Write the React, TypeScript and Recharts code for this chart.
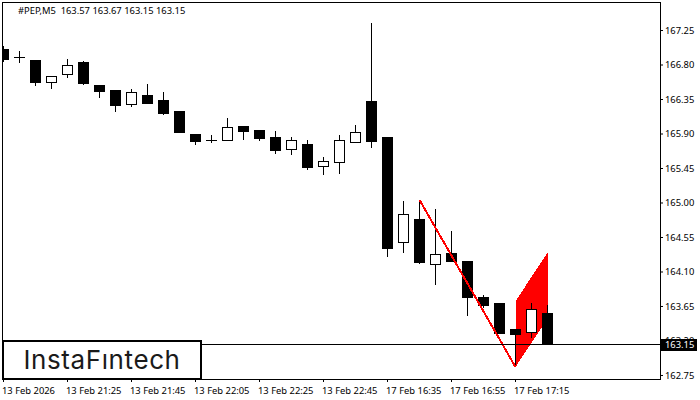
import { ComposedChart, Bar, Line, Area, XAxis, YAxis, ReferenceLine, ReferenceArea } from 'recharts';

const FONT = '"Noto Sans", sans-serif';
const FONT_SIZE = 9.4;

const opens = [167.01, 166.9, 166.87, 166.57, 166.67, 166.84, 166.54, 166.47, 166.28, 166.41, 166.34, 166.2, 165.9, 165.82, 165.81, 166.0, 165.95, 165.86, 165.69, 165.77, 165.47, 165.52, 165.78, 166.33, 165.86, 164.48, 164.79, 164.19, 164.35, 164.24, 163.77, 163.7, 163.36, 163.3, 163.57];
const closes = [166.87, 166.9, 166.57, 166.66, 166.8, 166.55, 166.45, 166.27, 166.45, 166.29, 166.16, 165.91, 165.8, 165.82, 165.99, 165.93, 165.84, 165.68, 165.82, 165.46, 165.55, 165.82, 165.93, 165.8, 164.4, 164.86, 164.22, 164.33, 164.23, 163.76, 163.66, 163.29, 163.28, 163.62, 163.15];
const highs = [167.05, 166.98, 166.87, 166.66, 166.88, 166.85, 166.54, 166.47, 166.49, 166.55, 166.45, 166.2, 165.9, 165.89, 166.11, 166.0, 165.95, 165.94, 165.86, 165.82, 165.6, 165.89, 166.02, 167.35, 165.86, 165.03, 165.04, 164.92, 164.63, 164.24, 163.8, 163.7, 163.36, 163.7, 163.67];
const lows = [166.84, 166.83, 166.53, 166.49, 166.63, 166.54, 166.37, 166.19, 166.25, 166.29, 166.15, 165.91, 165.76, 165.78, 165.81, 165.82, 165.81, 165.64, 165.63, 165.43, 165.37, 165.38, 165.78, 165.72, 164.3, 164.35, 164.2, 163.93, 164.23, 163.53, 163.63, 163.29, 162.86, 163.24, 163.15];

const timeTicks = [0, 4, 8, 12, 16, 20, 24, 28, 32];
const timeLabels = ['13 Feb 2026', '13 Feb 21:25', '13 Feb 21:45', '13 Feb 22:05', '13 Feb 22:25', '13 Feb 22:45', '17 Feb 16:35', '17 Feb 16:55', '17 Feb 17:15'];
const priceTicks = [167.25, 166.8, 166.35, 165.9, 165.45, 165.0, 164.55, 164.1, 163.65, 163.2, 162.75];
const lastPrice = 163.15;

const poleIndex = [26, 32];
const polePrice = [165.04, 162.86];
const flagIndex = [32, 34];
const flagLow = [162.86, 163.49];
const flagHigh = [163.72, 164.35];

const candles = opens.map((open, i) => ({ i, open, close: closes[i], high: highs[i], low: lows[i] }));
const pole = poleIndex.map((i, k) => ({ i, price: polePrice[k] }));
const flag = flagIndex.map((i, k) => ({ i, range: [flagLow[k], flagHigh[k]] }));

function Candle(props: any) {
  const { x, y, width, height, payload } = props;
  const perUnit = height / (payload.high - payload.low);
  const py = (p: number) => Math.round(y + (payload.high - p) * perUnit);
  const cx = Math.floor(x + width / 2) + 0.5;
  const left = cx - 5.5;
  const top = py(Math.max(payload.open, payload.close));
  const bottom = py(Math.min(payload.open, payload.close));
  const wick = <line x1={cx} x2={cx} y1={py(payload.high)} y2={py(payload.low)} stroke="#000" strokeWidth={1} />;

  if (payload.open === payload.close) {
    return (
      <g shapeRendering="crispEdges">
        {wick}
        <line x1={left} x2={left + 11} y1={top + 0.5} y2={top + 0.5} stroke="#000" />
      </g>
    );
  }
  if (payload.close > payload.open) {
    return (
      <g shapeRendering="crispEdges">
        {wick}
        <rect x={left + 0.5} y={top + 0.5} width={10} height={bottom - top - 1} fill="#fff" stroke="#000" strokeWidth={1} />
      </g>
    );
  }
  return (
    <g shapeRendering="crispEdges">
      {wick}
      <rect x={left} y={top} width={11} height={bottom - top} fill="#000" />
    </g>
  );
}

function TimeTick(props: any) {
  const { x, y, payload } = props;
  return (
    <text x={x - 1.5} y={y + 10} fontSize={FONT_SIZE} fontFamily={FONT} fill="#000" textAnchor="start">
      {timeLabels[timeTicks.indexOf(payload.value)]}
    </text>
  );
}

export default function App() {
  return (
    <div style={{ position: 'fixed', left: 0, top: 0, width: 700, height: 400, background: '#fff' }}>
      <ComposedChart width={700} height={400} data={candles} margin={{ top: 2, right: 0, bottom: 0, left: 2 }}>
        <XAxis
          dataKey="i"
          type="number"
          domain={[-0.094, 41.031]}
          allowDataOverflow
          ticks={timeTicks}
          interval={0}
          height={21}
          tick={<TimeTick />}
          tickSize={3}
          tickLine={{ stroke: '#000' }}
          axisLine={false}
        />
        <YAxis
          orientation="right"
          type="number"
          domain={[162.704, 167.622]}
          ticks={priceTicks}
          interval={0}
          width={40}
          tickSize={3}
          tickMargin={2}
          tickFormatter={(v: number) => v.toFixed(2)}
          tick={{ fontSize: FONT_SIZE, fontFamily: FONT, fill: '#000', textAnchor: 'start' }}
          tickLine={{ stroke: '#000' }}
          axisLine={false}
        />
        <Area data={flag} dataKey="range" type="linear" stroke="none" fill="#ff0000" fillOpacity={1} shapeRendering="crispEdges" isAnimationActive={false} />
        <Bar dataKey={(d: any) => [d.low, d.high]} barSize={11} shape={<Candle />} isAnimationActive={false} />
        <Line data={pole} dataKey="price" type="linear" stroke="#ff0000" strokeWidth={2} dot={false} shapeRendering="crispEdges" isAnimationActive={false} />
        <ReferenceLine y={lastPrice} stroke="#000" strokeWidth={1} shapeRendering="crispEdges" />
        <ReferenceArea x1={-0.094} x2={41.031} y1={162.704} y2={167.622} fill="none" stroke="#000" strokeWidth={1} shapeRendering="crispEdges" />
      </ComposedChart>
      <div style={{ position: 'absolute', left: 18, top: 4, fontFamily: FONT, fontSize: FONT_SIZE, color: '#000', whiteSpace: 'pre' }}>
        #PEP,M5  163.57 163.67 163.15 163.15
      </div>
      <div
        style={{
          position: 'absolute',
          left: 661,
          top: 339,
          width: 36,
          height: 12,
          background: '#000',
          color: '#fff',
          fontFamily: FONT,
          fontSize: FONT_SIZE,
          lineHeight: '12px',
          paddingLeft: 4,
          boxSizing: 'border-box',
        }}
      >
        {lastPrice.toFixed(2)}
      </div>
      <div
        style={{
          position: 'absolute',
          left: 2,
          top: 340,
          width: 200,
          height: 40,
          boxSizing: 'border-box',
          border: '2px solid #000',
          background: '#fff',
          color: '#1a1a1a',
          fontFamily: 'Inter, sans-serif',
          fontSize: 26,
          letterSpacing: 0.6,
          lineHeight: '36px',
          textAlign: 'center',
        }}
      >
        InstaFıntech
      </div>
    </div>
  );
}
